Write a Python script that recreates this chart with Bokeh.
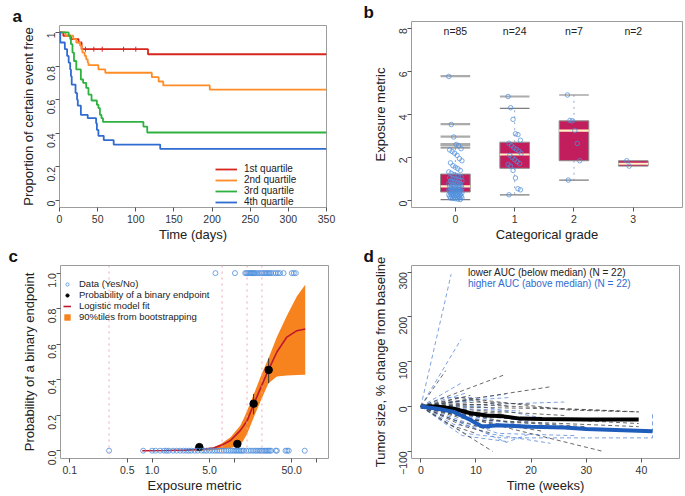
import math
from bokeh.plotting import figure
from bokeh.layouts import row, column
from bokeh.models import FixedTicker, Legend, LegendItem, Range1d, Span
from bokeh.embed import file_html
from bokeh.resources import INLINE
from bokeh.core.properties import value

FONT = "Liberation Sans"

# ---------------- Panel a: Kaplan-Meier by exposure quartile ----------------
q1_t = [0, 5, 15, 25, 29, 116, 350]
q1_s = [1.0, 0.98, 0.96, 0.94, 0.90, 0.87, 0.87]
q1_cens_t = [34, 45, 56, 84, 100]
q1_cens_s = [0.90, 0.90, 0.90, 0.90, 0.90]
q2_t = [0, 8, 18, 22, 27, 29, 30, 33, 35, 37, 38, 51, 60, 121, 130, 136, 197, 350]
q2_s = [1.0, 0.98, 0.96, 0.94, 0.92, 0.90, 0.88, 0.86, 0.84, 0.82, 0.805, 0.78, 0.76, 0.734, 0.708, 0.685, 0.66, 0.66]
q3_t = [0, 12, 14, 15, 17, 19, 22, 28, 31, 35, 38, 42, 49, 51, 53, 55, 57, 110, 115, 350]
q3_s = [1.0, 0.98, 0.96, 0.93, 0.88, 0.83, 0.78, 0.72, 0.70, 0.67, 0.63, 0.595, 0.57, 0.55, 0.51, 0.49, 0.468, 0.44, 0.405, 0.405]
q4_t = [0, 1, 7, 10, 12, 14, 15, 16, 21, 23, 24, 28, 37, 48, 49, 51, 58, 71, 132, 350]
q4_s = [1.0, 0.94, 0.90, 0.86, 0.82, 0.78, 0.74, 0.69, 0.64, 0.60, 0.565, 0.51, 0.49, 0.46, 0.42, 0.385, 0.36, 0.333, 0.307, 0.307]
quartile_labels = ["1st quartile", "2nd quartile", "3rd quartile", "4th quartile"]
a_yticks = [0, 0.2, 0.4, 0.6, 0.8, 1]
a_xticks = [0, 50, 100, 150, 200, 250, 300, 350]

# ---------------- Panel b: exposure by categorical grade ----------------
grades = [0, 1, 2, 3]
grade_n = ["n=85", "n=24", "n=7", "n=2"]
box_q1 = [0.40, 1.50, 1.85, 1.60]
box_med = [0.66, 2.14, 3.25, 1.71]
box_q3 = [1.23, 2.71, 3.70, 1.85]
whisk_lo = [0.05, 0.27, 0.95, 1.60]
whisk_hi = [2.45, 4.28, 4.90, 1.85]
out_grade = [0, 0, 0, 0, 0, 1]
out_val = [5.78, 3.55, 2.97, 2.62, 2.56, 4.83]
pts_g0 = [5.76, 3.53, 2.95, 2.6, 2.55, 2.41, 2.35, 2.28, 2.2, 2.1, 1.95, 1.85, 1.75, 1.62, 1.55, 1.48, 1.4, 1.33, 1.27,
          1.2, 1.17, 1.13, 1.1, 1.06, 1.02, 1.0, 0.97, 0.94, 0.92, 0.9, 0.88, 0.85, 0.82, 0.8, 0.78, 0.76, 0.74, 0.72,
          0.7, 0.68, 0.66, 0.65, 0.64, 0.62, 0.6, 0.58, 0.56, 0.55, 0.53, 0.52, 0.5, 0.49, 0.48, 0.47, 0.46, 0.45,
          0.44, 0.43, 0.42, 0.41, 0.40, 0.38, 0.36, 0.35, 0.33, 0.32, 0.3, 0.28, 0.27, 0.26, 0.24, 0.23, 0.22, 0.2,
          0.19, 0.18, 0.17, 0.15, 0.14, 0.13, 0.12, 0.1, 0.09, 0.07, 0.05]
pts_g1 = [4.83, 4.31, 3.77, 3.1, 3.06, 2.8, 2.66, 2.55, 2.45, 2.38, 2.3, 2.2, 2.1, 2.0, 1.9, 1.8, 1.72, 1.68,
          1.6, 1.4, 1.05, 0.55, 0.5, 0.27]
pts_g2 = [4.9, 3.72, 3.7, 3.25, 2.65, 1.85, 0.95]
pts_g3 = [1.85, 1.6]
b_yticks = [0, 2, 4, 6, 8]

# ---------------- Panel c: logistic exposure-response ----------------
yes_x = [5.9, 10.2, 13.6, 14.0, 14.5, 15.0, 15.5, 16.0, 16.5, 17.0, 17.5, 18.0, 19.0, 20.0, 21.0, 22.0, 23.0,
         24.0, 25.0, 26.0, 27.0, 28.0, 30.0, 32.0, 34.0, 36.0, 39.8, 50.0, 53.0, 56.0]
no_x = [0.30, 0.78, 1.0, 1.1, 1.25, 1.4, 1.5, 1.6, 1.8, 2.0, 2.2, 2.4, 2.6, 2.8, 3.0, 3.3, 3.6, 4.0, 4.3, 4.6,
        5.0, 5.4, 5.8, 6.2, 6.6, 7.0, 7.5, 8.0, 8.5, 9.0, 9.5, 10.0, 10.5, 11.0, 11.5, 12.0, 12.5, 13.0, 14.0,
        15.0, 16.0, 17.0, 18.0, 19.0, 20.0, 21.0, 22.0, 23.0, 24.0, 25.0, 26.0, 27.0, 28.0, 32.0, 33.0, 42.0,
        44.0, 46.0, 72.0]
bin_x = [3.76, 10.9, 17.2, 26.2]
bin_p = [0.02, 0.038, 0.265, 0.455]
bin_lo = [0.008, 0.02, 0.205, 0.38]
bin_hi = [0.035, 0.06, 0.32, 0.52]
bin_edges = [0.30, 7.1, 14.3, 21.7]
fit_x = [0.76, 1.5, 2.5, 4.0, 5.6, 7.0, 9.0, 11.8, 14.3, 17.2, 21.7, 26.1, 33.0, 43.6, 57.8, 73.0]
fit_p = [0.0, 0.001, 0.003, 0.008, 0.015, 0.03, 0.057, 0.113, 0.168, 0.26, 0.371, 0.455, 0.556, 0.64, 0.676, 0.685]
band_x = [0.76, 2.0, 4.0, 5.6, 7.0, 9.0, 11.8, 13.0, 14.3, 17.2, 21.7, 26.1, 33.0, 43.6, 57.8, 73.0]
band_hi = [0.0, 0.003, 0.01, 0.02, 0.04, 0.075, 0.14, 0.18, 0.224, 0.316, 0.436, 0.52, 0.64, 0.76, 0.87, 0.935]
band_lo = [0.0, 0.0, 0.0, 0.003, 0.008, 0.015, 0.03, 0.06, 0.094, 0.186, 0.297, 0.38, 0.418, 0.424, 0.426, 0.427]
c_xticks = [0.1, 0.5, 1, 5, 10, 50, 100]
c_xlabels = {0.1: "0.1", 0.5: "0.5", 1: "1.0", 5: "5.0", 10: "", 50: "50.0", 100: ""}
c_yticks = [0, 0.2, 0.4, 0.6, 0.8, 1]

# ---------------- Panel d: tumor size trajectories ----------------
low_xs = [[0, 4.5], [0, 15], [0, 23.5], [0, 13], [0, 33], [0, 8, 39.5], [0, 7, 27, 39.5], [0, 8, 20],
          [0, 10, 39.5], [0, 6, 12], [0, 5, 10], [0, 10, 20], [0, 12, 26], [0, 9, 16], [0, 7, 22],
          [0, 11, 39.5], [0, 4, 9], [0, 12], [0, 8, 13], [0, 16, 30], [0, 6, 15], [0, 24, 36]]
low_ys = [[0, 80], [0, 70], [0, 44], [0, -100], [0, -100], [0, 5, -12], [0, 20, -8, -12], [0, -20, -30],
          [0, -30, -45], [0, -30, -50], [0, -40, -60], [0, 10, 5], [0, -10, -20], [0, 15, 0], [0, -25, -55],
          [0, -20, -38], [0, 10, 25], [0, 5], [0, -45, -60], [0, -35, -45], [0, -10, -15], [0, -5, -10]]
high_xs = [[0, 5.5], [0, 7.3], [0, 7.3], [0, 8.2], [0, 15.5], [0, 13, 26], [0, 8, 15, 42, 42], [0, 12, 23.5],
           [0, 7.5, 15.5], [0, 10, 15.5, 20], [0, 10, 16], [0, 8, 18], [0, 10, 25], [0, 6, 13], [0, 12, 20],
           [0, 5, 9], [0, 14, 28], [0, 9, 12], [0, 6, 20], [0, 13], [0, 11, 24], [0, 4, 10]]
high_ys = [[0, 295], [0, 150], [0, 52], [0, 30], [0, 28], [0, 5, 10], [0, -60, -70, -70, -14], [0, -60, -82],
           [0, -65, -78], [0, -50, -80, -60], [0, 15, 20], [0, -5, -10], [0, -30, -40], [0, -40, -50],
           [0, -20, -35], [0, 10, 12], [0, -60, -65], [0, -20, -25], [0, -15, -45], [0, -35], [0, 0, -30],
           [0, 20, 20]]
low_mean_x = [0, 3, 6, 9, 12, 15, 18, 22, 30, 39.5]
low_mean_y = [0, 0, -5, -15, -20, -22, -27, -28, -29, -29]
high_mean_x = [0, 3, 6, 9, 11, 12, 14, 20, 26, 30, 42]
high_mean_y = [0, -5, -12, -30, -44, -44, -42, -45, -47, -50, -55]
d_labels = ["lower AUC (below median) (N = 22)", "higher AUC (above median) (N = 22)"]
d_yticks = [-100, 0, 100, 200, 300]
d_xticks = [0, 10, 20, 30, 40]

RED, ORANGE, GREEN, BLUE = "#d8261e", "#ff8c26", "#2eb13f", "#2f6bd0"
PT_BLUE = "#4f8fdc"


def style(p, xticks, yticks, yoverride=None, xoverride=None):
    p.frame_align = False
    p.outline_line_color = "#9c9c9c"
    p.outline_line_width = 1
    p.xgrid.visible = False
    p.ygrid.visible = False
    p.background_fill_color = "white"
    for ax in p.axis:
        ax.axis_line_color = None
        ax.major_tick_line_color = "#555555"
        ax.major_tick_out = 4
        ax.major_tick_in = 0
        ax.minor_tick_line_color = None
        ax.major_label_text_font = FONT
        ax.major_label_text_font_size = "10.5px"
        ax.major_label_text_color = "#333333"
        ax.axis_label_text_font = FONT
        ax.axis_label_text_font_size = "13px"
        ax.axis_label_text_font_style = "normal"
        ax.axis_label_text_color = "#222222"
    p.xaxis.ticker = FixedTicker(ticks=xticks)
    p.yaxis.ticker = FixedTicker(ticks=yticks)
    p.xaxis.major_label_standoff = 3
    p.xaxis.axis_label_standoff = 1
    p.yaxis.major_label_standoff = 4
    p.yaxis.axis_label_standoff = 5
    p.yaxis.major_label_orientation = math.pi / 2
    if yoverride:
        p.yaxis.major_label_overrides = yoverride
    if xoverride:
        p.xaxis.major_label_overrides = xoverride


def panel_letter(p, text, offset):
    p.title.text = text
    p.title.text_font = FONT
    p.title.text_font_size = "17px"
    p.title.text_font_style = "bold"
    p.title.text_color = "#111111"
    p.title.align = "left"
    p.title.offset = offset
    p.title.standoff = 0
    p.title.text_line_height = 0.8


# ---------------- build panel a ----------------
pa = figure(width=343, height=244, x_range=Range1d(0, 350), y_range=Range1d(-0.041, 1.041),
            output_backend="svg", toolbar_location=None,
            min_border_left=59, min_border_right=17, min_border_top=25, min_border_bottom=35)
style(pa, a_xticks, a_yticks, yoverride={0: "0", 0.2: "0.2", 0.4: "0.4", 0.6: "0.6", 0.8: "0.8", 1: "1"})
pa.xaxis.axis_label = "Time (days)"
pa.yaxis.axis_label = "Proportion of certain event free"
ra = []
for t, s, c in [(q1_t, q1_s, RED), (q2_t, q2_s, ORANGE), (q3_t, q3_s, GREEN), (q4_t, q4_s, BLUE)]:
    ra.append(pa.step(t, s, mode="after", line_color=c, line_width=1.8))
pa.scatter(q1_cens_t, q1_cens_s, marker="dash", angle=math.pi / 2, size=5, line_color=RED, line_width=1)
leg_a = Legend(items=[LegendItem(label=l, renderers=[r]) for l, r in zip(quartile_labels, ra)],
               location=(156, 0), border_line_color=None, background_fill_alpha=0,
               label_text_font=FONT, label_text_font_size="10px", label_text_color="#222222",
               glyph_width=22, glyph_height=10, label_height=10, spacing=-2, padding=2, margin=0,
               label_standoff=7)
pa.add_layout(leg_a)
panel_letter(pa, "a", -47)

# ---------------- build panel b ----------------
pb = figure(width=341, height=244, x_range=Range1d(-0.74, 3.83), y_range=Range1d(-0.32, 8.31),
            output_backend="svg", toolbar_location=None,
            min_border_left=68, min_border_right=2, min_border_top=14, min_border_bottom=35)
style(pb, grades, b_yticks)
pb.xaxis.axis_label = "Categorical grade"
pb.yaxis.axis_label = "Exposure metric"
hw = 0.25
pb.segment(x0=grades, y0=box_q3, x1=grades, y1=whisk_hi, line_color="#97a8c4", line_dash="dotted", line_width=1)
pb.segment(x0=grades, y0=box_q1, x1=grades, y1=whisk_lo, line_color="#97a8c4", line_dash="dotted", line_width=1)
pb.vbar(x=grades, width=2 * hw, bottom=box_q1, top=box_q3, fill_color="#c21d5c", line_color="#8c8c8c", line_width=1)
pb.segment(x0=[g - hw for g in grades], y0=box_med, x1=[g + hw for g in grades], y1=box_med,
           line_color="#fff3c6", line_width=2.2)
cap_g = [g for g, lo, hi in zip(grades, whisk_lo, whisk_hi) if hi > lo + 0.3]
cap_hi = [hi for g, lo, hi in zip(grades, whisk_lo, whisk_hi) if hi > lo + 0.3]
cap_lo = [lo for g, lo, hi in zip(grades, whisk_lo, whisk_hi) if hi > lo + 0.3]
for cv in (cap_hi, cap_lo):
    pb.segment(x0=[g - hw for g in cap_g], y0=cv, x1=[g + hw for g in cap_g], y1=cv,
               line_color="#7d7d7d", line_width=1.2)
pb.segment(x0=[g - hw for g in out_grade], y0=out_val, x1=[g + hw for g in out_grade], y1=out_val,
           line_color="#ababab", line_width=2.2)
for g, pts in zip(grades, [pts_g0, pts_g1, pts_g2, pts_g3]):
    xs = [g + ((i * 37) % 17 - 8) / 8 * 0.11 for i in range(len(pts))]
    pb.scatter(xs, pts, marker="circle", size=4.5, fill_color=None, line_color=PT_BLUE, line_alpha=0.75,
               line_width=1)
pb.text(x=grades, y=[7.87] * len(grades), text=grade_n, text_font=value(FONT), text_font_size="10.5px",
        text_align="center", text_baseline="middle", text_color="#222222")
panel_letter(pb, "b", -48)

# ---------------- build panel c ----------------
pc = figure(width=343, height=251, x_axis_type="log", x_range=Range1d(0.077, 140),
            y_range=Range1d(-0.044, 1.043), output_backend="svg", toolbar_location=None,
            min_border_left=60, min_border_right=15, min_border_top=18, min_border_bottom=37)
style(pc, c_xticks, c_yticks, xoverride=c_xlabels,
      yoverride={0: "0.0", 0.2: "0.2", 0.4: "0.4", 0.6: "0.6", 0.8: "0.8", 1: "1.0"})
pc.xaxis.axis_label = "Exposure metric"
pc.yaxis.axis_label = "Probability of a binary endpoint"
for e in bin_edges:
    pc.add_layout(Span(location=e, dimension="height", line_color="#f2a3b3", line_dash="dotted", line_width=1))
r_band = pc.varea(x=band_x, y1=band_lo, y2=band_hi, fill_color="#f7831f")
r_fit = pc.line(fit_x, fit_p, line_color="#c0162e", line_width=1.6)
pc.segment(x0=bin_x, y0=bin_lo, x1=bin_x, y1=bin_hi, line_color="#333333", line_width=1)
r_bin = pc.scatter(bin_x, bin_p, marker="circle", size=7.5, fill_color="black", line_color="black")
r_yes = pc.scatter(yes_x, [1] * len(yes_x), marker="circle", size=5, fill_color=None, line_color=PT_BLUE,
                   line_alpha=0.8)
pc.scatter(no_x, [0] * len(no_x), marker="circle", size=5, fill_color=None, line_color=PT_BLUE, line_alpha=0.8)
leg_c = Legend(items=[LegendItem(label="Data (Yes/No)", renderers=[r_yes]),
                      LegendItem(label="Probability of a binary endpoint", renderers=[r_bin]),
                      LegendItem(label="Logistic model fit", renderers=[r_fit]),
                      LegendItem(label="90%tiles from bootstrapping", renderers=[r_band])],
               location=(3, 136), border_line_color=None, background_fill_alpha=0,
               label_text_font=FONT, label_text_font_size="9.5px", label_text_color="#222222",
               glyph_width=8, glyph_height=8, label_height=9, spacing=-4, padding=2, margin=0,
               label_standoff=8)
pc.add_layout(leg_c)
panel_letter(pc, "c", -52)

# ---------------- build panel d ----------------
pd = figure(width=341, height=251, x_range=Range1d(-1.69, 46.9), y_range=Range1d(-116, 314.6),
            output_backend="svg", toolbar_location=None,
            min_border_left=68, min_border_right=5, min_border_top=18, min_border_bottom=37)
style(pd, d_xticks, d_yticks)
pd.xaxis.axis_label = "Time (weeks)"
pd.yaxis.axis_label = "Tumor size, % change from baseline"
pd.multi_line(high_xs, high_ys, line_color="#5b8ad8", line_dash="4 3", line_width=1, line_alpha=0.8)
pd.multi_line(low_xs, low_ys, line_color="#444444", line_dash="4 3", line_width=1, line_alpha=0.8)
pd.line(low_mean_x, low_mean_y, line_color="black", line_width=4)
pd.line(high_mean_x, high_mean_y, line_color="#1f5dbd", line_width=4)
r_low_key = pd.line([], [], line_color="#333333", line_width=1.5)
r_high_key = pd.line([], [], line_color="#4f83d6", line_width=1.5)
for lab, r, col, yloc in [(d_labels[0], r_low_key, "#222222", 180), (d_labels[1], r_high_key, "#2f6bd0", 169)]:
    pd.add_layout(Legend(items=[LegendItem(label=lab, renderers=[r])], location=(26, yloc),
                         border_line_color=None, background_fill_alpha=0,
                         label_text_font=FONT, label_text_font_size="10px", label_text_color=col,
                         glyph_width=20, glyph_height=10, label_height=10, spacing=0, padding=1, margin=0,
                         label_standoff=11))
panel_letter(pd, "d", -48)

layout = column(row(pa, pb), row(pc, pd))
open("out.html", "w").write(file_html(layout, INLINE))
